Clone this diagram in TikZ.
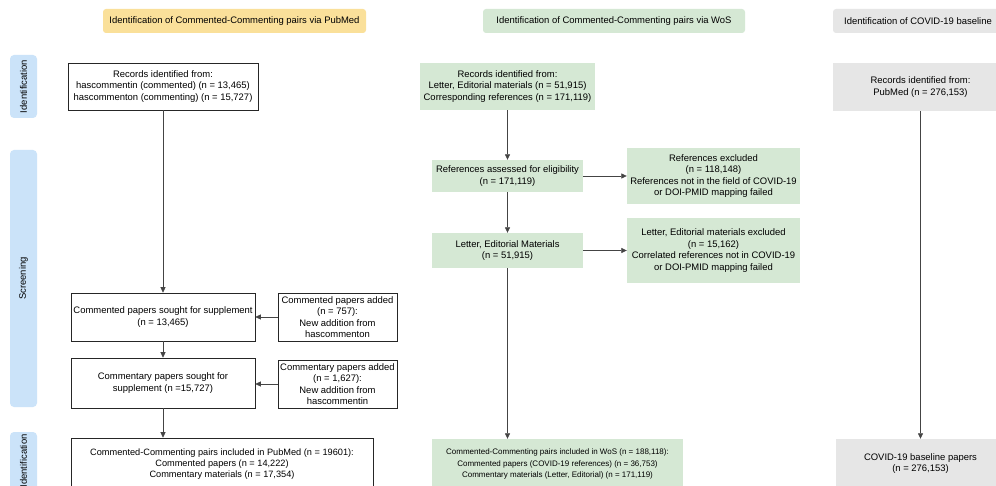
\documentclass[tikz,border=0pt]{standalone}
\usepackage{fontspec}
\setmainfont{Liberation Sans}
\usetikzlibrary{arrows.meta}
\definecolor{hdryellow}{HTML}{FAE09A}
\definecolor{wosgreen}{HTML}{D5E8D4}
\definecolor{basegray}{HTML}{E6E6E6}
\definecolor{sideblue}{HTML}{CBE3F9}
\definecolor{lncol}{HTML}{444444}
\tikzset{
  txt/.style={font=\fontsize{9.45}{11.4}\selectfont, align=center, inner sep=0pt, text=black},
  hdr/.style={txt, rounded corners=3pt, minimum height=24pt},
  side/.style={rounded corners=4pt, fill=sideblue, minimum width=27pt, inner sep=0pt},
  wbox/.style={txt, draw=black!85, line width=0.6pt, fill=white},
  gbox/.style={txt, fill=wosgreen},
  bbox/.style={txt, fill=basegray},
  arr/.style={draw=lncol, line width=0.7pt, -{Triangle[length=5.5pt,width=5pt]}},
}
\begin{document}
\begin{tikzpicture}[x=1pt,y=-1pt]
\useasboundingbox (0,0) rectangle (996,486);
\fill[white] (0,0) rectangle (996,486);
\begin{scope}
\clip (0,0) rectangle (996,486);
% headers
\node[hdr, fill=hdryellow, minimum width=263pt] (hP) at (234.5,21) {Identification of Commented-Commenting pairs via PubMed};
\node[hdr, fill=wosgreen, minimum width=262pt] (hW) at (614,21) {Identification of Commented-Commenting pairs via WoS};
\node[hdr, fill=basegray, minimum width=170pt] (hB) at (918,21) {Identification of COVID-19 baseline};
% side labels
\node[side, minimum height=63pt] (s1) at (23.5,86.5) {};
\node[txt, rotate=90] (s1t) at (s1.center) {Identification};
\node[side, minimum height=257pt] (s2) at (23.5,278.5) {};
\node[txt, rotate=90] (s2t) at (s2.center) {Screening};
\node[side, minimum height=58pt] (s3) at (23.5,461) {};
\node[txt, rotate=90] (s3t) at (s3.center) {Identification};
% PubMed column
\node[wbox, minimum width=190pt, minimum height=47pt] (p1) at (163,86.5) {Records identified from:\\hascommentin (commented) (n = 13,465)\\hascommenton (commenting) (n = 15,727)};
\node[wbox, minimum width=184pt, minimum height=48pt] (p2) at (163,317) {Commented papers sought for supplement\\(n = 13,465)};
\node[wbox, minimum width=119pt, minimum height=48pt] (p2r) at (337.5,317) {Commented papers added\\(n = 757):\\New addition from\\hascommenton};
\node[wbox, minimum width=184pt, minimum height=50pt] (p3) at (163,383) {Commentary papers sought for\\supplement (n =15,727)};
\node[wbox, minimum width=119pt, minimum height=48pt] (p3r) at (337.5,384) {Commentary papers added\\(n = 1,627):\\New addition from\\hascommentin};
\node[wbox, minimum width=302pt, minimum height=52pt, font=\fontsize{9.2}{11.2}\selectfont] (p4) at (222,464) {Commented-Commenting pairs included in PubMed (n = 19601):\\Commented papers (n = 14,222)\\Commentary materials (n = 17,354)};
\draw[arr] (p1.south) -- (p2.north);
\draw[arr] (p2.south) -- (p3.north);
\draw[arr] (p3.south) -- (p3.south |- p4.north);
\draw[arr] (p2r.west) -- (p2.east);
\draw[arr] (p3r.west) -- (p3r.west -| p3.east);
% WoS column
\node[gbox, minimum width=175pt, minimum height=47pt] (w1) at (507.5,86.5) {Records identified from:\\Letter, Editorial materials (n = 51,915)\\Corresponding references (n = 171,119)};
\node[gbox, minimum width=151pt, minimum height=32pt] (w2) at (507.5,176) {References assessed for eligibility\\(n = 171,119)};
\node[gbox, minimum width=173pt, minimum height=56pt] (w2r) at (713.5,176) {References excluded\\(n = 118,148)\\References not in the field of COVID-19\\or DOI-PMID mapping failed};
\node[gbox, minimum width=151pt, minimum height=35pt] (w3) at (507.5,250.5) {Letter, Editorial Materials\\(n = 51,915)};
\node[gbox, minimum width=173pt, minimum height=65pt] (w3r) at (713.5,250.5) {Letter, Editorial materials excluded\\(n = 15,162)\\Correlated references not in COVID-19\\or DOI-PMID mapping failed};
\node[gbox, minimum width=251pt, minimum height=50pt, font=\fontsize{8.0}{11.5}\selectfont] (w4) at (557.5,464) {Commented-Commenting pairs included in WoS (n = 188,118):\\Commented papers (COVID-19 references) (n = 36,753)\\Commentary materials (Letter, Editorial) (n = 171,119)};
\draw[arr] (w1.south) -- (w2.north);
\draw[arr] (w2.south) -- (w3.north);
\draw[arr] (w3.south) -- (w3.south |- w4.north);
\draw[arr] (w2.east) -- (w2r.west);
\draw[arr] (w3.east) -- (w3r.west);
% baseline column
\node[bbox, minimum width=175pt, minimum height=48pt] (b1) at (920.5,87) {Records identified from:\\PubMed (n = 276,153)};
\node[bbox, minimum width=170pt, minimum height=49pt] (b2) at (920.5,463.5) {COVID-19 baseline papers\\(n = 276,153)};
\draw[arr] (b1.south) -- (b2.north);
\end{scope}
\end{tikzpicture}
\end{document}
